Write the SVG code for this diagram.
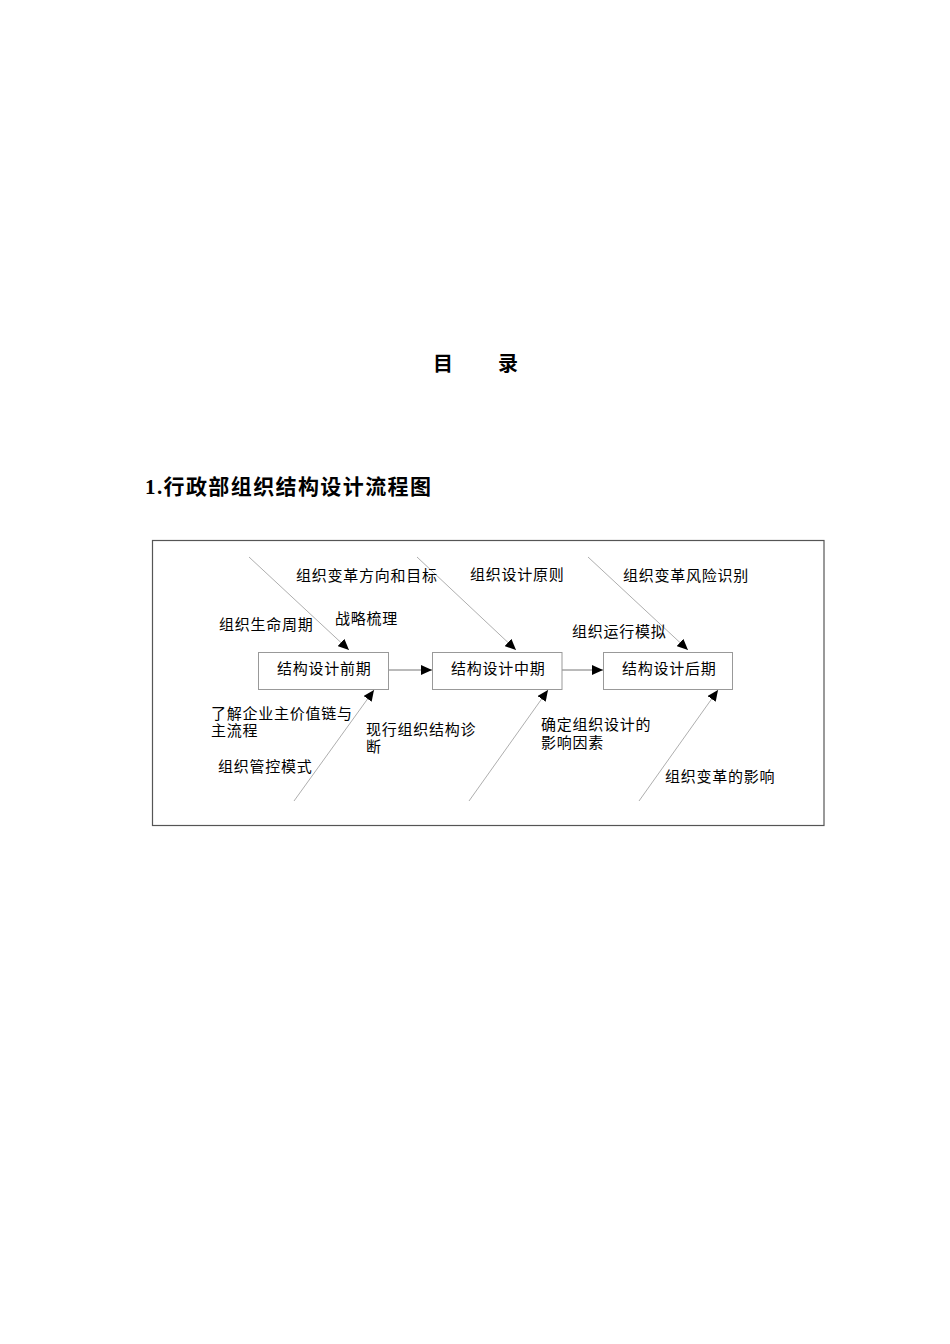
<svg xmlns="http://www.w3.org/2000/svg" width="950" height="1344" viewBox="0 0 950 1344">
<style>
text{font-family:"Liberation Serif","Noto Sans CJK SC",serif;fill:#000}
.t{font-size:15px;letter-spacing:0.75px}
.h{font-size:20px;font-weight:bold}
.h2{font-size:21px;font-weight:bold;letter-spacing:1.4px}
.box{fill:#fff;stroke:#999;stroke-width:1}
.ln{stroke:#999;stroke-width:0.8;fill:none}
.ar{stroke:#777;stroke-width:1;fill:none}
</style>
<defs>
<marker id="ah" markerUnits="userSpaceOnUse" markerWidth="12" markerHeight="10" refX="11" refY="5" orient="auto">
<path d="M0,0 L11,5 L0,10 Z" fill="#000"/>
</marker>
</defs>
<rect width="950" height="1344" fill="#fff"/>
<text class="h" x="433" y="371">目</text>
<text class="h" x="498" y="371">录</text>
<text class="h2" x="145" y="494">1.行政部组织结构设计流程图</text>
<rect x="152.5" y="540.5" width="671.5" height="285" fill="none" stroke="#555" stroke-width="1.2"/>
<g id="connectors">
<line class="ar" x1="388" y1="670" x2="432" y2="670" marker-end="url(#ah)"/>
<line class="ar" x1="562" y1="670" x2="603" y2="670" marker-end="url(#ah)"/>
<line class="ln" x1="249" y1="557" x2="349" y2="650" marker-end="url(#ah)"/>
<line class="ln" x1="417" y1="557" x2="516" y2="650" marker-end="url(#ah)"/>
<line class="ln" x1="588" y1="557" x2="688" y2="650" marker-end="url(#ah)"/>
<line class="ln" x1="294" y1="801" x2="374" y2="690" marker-end="url(#ah)"/>
<line class="ln" x1="469" y1="801" x2="548" y2="690" marker-end="url(#ah)"/>
<line class="ln" x1="639" y1="801" x2="718" y2="690" marker-end="url(#ah)"/>
</g>
<g id="n1"><rect class="box" x="258.5" y="652.5" width="130" height="37"/><text class="t" x="277" y="674">结构设计前期</text></g>
<g id="n2"><rect class="box" x="432.5" y="652.5" width="129.5" height="37"/><text class="t" x="451" y="674">结构设计中期</text></g>
<g id="n3"><rect class="box" x="603.5" y="652.5" width="129" height="37"/><text class="t" x="622" y="674">结构设计后期</text></g>
<g id="labels">
<text class="t" x="296" y="581">组织变革方向和目标</text>
<text class="t" x="335" y="624">战略梳理</text>
<text class="t" x="219" y="630">组织生命周期</text>
<text class="t" x="211" y="719">了解企业主价值链与</text>
<text class="t" x="211" y="736">主流程</text>
<text class="t" x="366" y="735">现行组织结构诊</text>
<text class="t" x="366" y="752">断</text>
<text class="t" x="218" y="772">组织管控模式</text>
<text class="t" x="470" y="580">组织设计原则</text>
<text class="t" x="623" y="581">组织变革风险识别</text>
<text class="t" x="572" y="637">组织运行模拟</text>
<text class="t" x="541" y="730">确定组织设计的</text>
<text class="t" x="541" y="748">影响因素</text>
<text class="t" x="665" y="782">组织变革的影响</text>
</g>
</svg>
